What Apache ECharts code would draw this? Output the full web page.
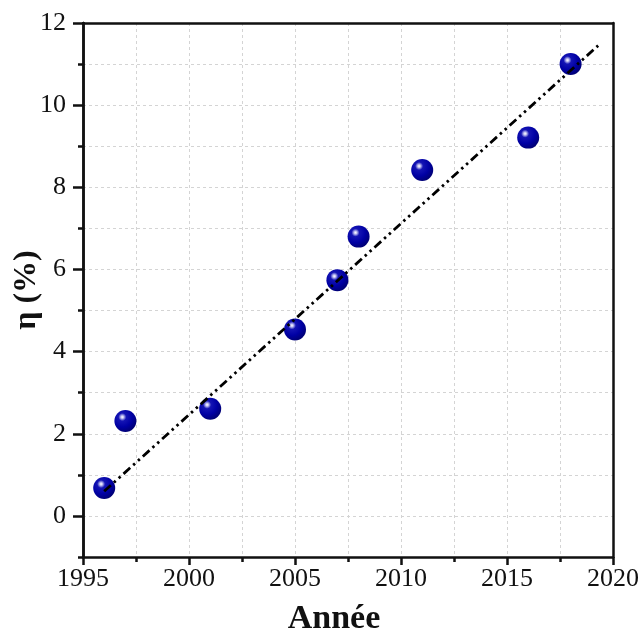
<!DOCTYPE html>
<html>
<head>
<meta charset="utf-8">
<script src="https://cdn.jsdelivr.net/npm/echarts@6/dist/echarts.min.js"></script>
<style>
html,body{margin:0;padding:0;background:#fff;}
#chart{width:643px;height:641px;}
</style>
</head>
<body>
<div id="chart"></div>
<script>
// Data
var years = [1996, 1997, 2001, 2005, 2007, 2008, 2011, 2016, 2018];
var efficiency = [0.68, 2.31, 2.61, 4.54, 5.74, 6.80, 8.42, 9.21, 11.0];
var fitX = [1996, 2019.3];
var fitY = [0.6, 11.45];
var yMajorTicks = [0, 2, 4, 6, 8, 10, 12];
var yMinorTicks = [-1, 1, 3, 5, 7, 9, 11];
var xAxisTitle = 'Année';
var yAxisTitle = 'η (%)';

var FONT = "'Liberation Serif', 'Times New Roman', serif";
var chart = echarts.init(document.getElementById('chart'), null, {renderer: 'canvas'});

var scatterData = years.map(function (y, i) { return [y, efficiency[i]]; });
var fitData = fitX.map(function (x, i) { return [x, fitY[i]]; });

var gridDash = {color: '#d4d4d4', width: 1, type: [3, 3]};
var frameLine = {color: '#111', width: 2.5};

var option = {
  backgroundColor: '#ffffff',
  animation: false,
  grid: {left: 83, top: 23, right: 30, bottom: 78},
  xAxis: [{
    type: 'value', min: 1995, max: 2020, interval: 5,
    axisLine: {show: true, onZero: false, lineStyle: frameLine},
    axisTick: {show: true, inside: false, length: 8, lineStyle: frameLine},
    minorTick: {show: true, splitNumber: 2, length: 5, lineStyle: frameLine},
    splitLine: {show: true, lineStyle: gridDash},
    minorSplitLine: {show: true, lineStyle: gridDash},
    axisLabel: {fontFamily: FONT, fontSize: 26, color: '#111', margin: 9,
      formatter: function (v) { return String(v); }},
    name: xAxisTitle, nameLocation: 'middle', nameGap: 45,
    nameTextStyle: {fontFamily: FONT, fontSize: 34, fontWeight: 'bold', color: '#111', padding: [0, 28, 0, 0]}
  }, {
    type: 'value', min: 1995, max: 2020, position: 'top', z: 5,
    axisLine: {show: true, onZero: false, lineStyle: frameLine},
    axisTick: {show: false}, axisLabel: {show: false}, splitLine: {show: false}
  }],
  yAxis: [{
    type: 'value', min: -1, max: 12, interval: 1,
    axisLine: {show: true, onZero: false, lineStyle: frameLine},
    axisTick: {show: false},
    axisLabel: {show: false},
    splitLine: {show: true, lineStyle: gridDash},
    name: yAxisTitle, nameLocation: 'middle', nameGap: 40, nameRotate: 90,
    nameTextStyle: {fontFamily: FONT, fontSize: 32, fontWeight: 'bold', color: '#111'}
  }, {
    type: 'value', min: -1, max: 12, position: 'left', z: 5,
    axisLine: {show: true, onZero: false, lineStyle: frameLine},
    axisTick: {show: true, length: 10, customValues: yMajorTicks, lineStyle: frameLine},
    axisLabel: {show: true, customValues: yMajorTicks, fontFamily: FONT, fontSize: 26, color: '#111', margin: 17},
    splitLine: {show: false}
  }, {
    type: 'value', min: -1, max: 12, position: 'left', z: 5,
    axisLine: {show: false, onZero: false},
    axisTick: {show: true, length: 5, customValues: yMinorTicks, lineStyle: frameLine},
    axisLabel: {show: false},
    splitLine: {show: false}
  }, {
    type: 'value', min: -1, max: 12, position: 'right', z: 5,
    axisLine: {show: true, onZero: false, lineStyle: frameLine},
    axisTick: {show: false}, axisLabel: {show: false}, splitLine: {show: false}
  }],
  series: [{
    type: 'scatter',
    xAxisIndex: 0, yAxisIndex: 0,
    data: scatterData,
    symbol: 'circle',
    symbolSize: 22,
    z: 3,
    itemStyle: {
      opacity: 1,
      color: {
        type: 'radial', x: 0.36, y: 0.32, r: 0.75,
        colorStops: [
          {offset: 0, color: '#ffffff'},
          {offset: 0.08, color: '#c8c8f4'},
          {offset: 0.24, color: '#1414b4'},
          {offset: 0.6, color: '#0000a4'},
          {offset: 1, color: '#00006c'}
        ]
      }
    }
  }, {
    type: 'line',
    xAxisIndex: 0, yAxisIndex: 0,
    data: fitData,
    symbol: 'none',
    z: 4,
    lineStyle: {color: '#000', width: 2.8, type: [9, 4, 2.5, 4, 2.5, 4]}
  }]
};
chart.setOption(option);
</script>
</body>
</html>
